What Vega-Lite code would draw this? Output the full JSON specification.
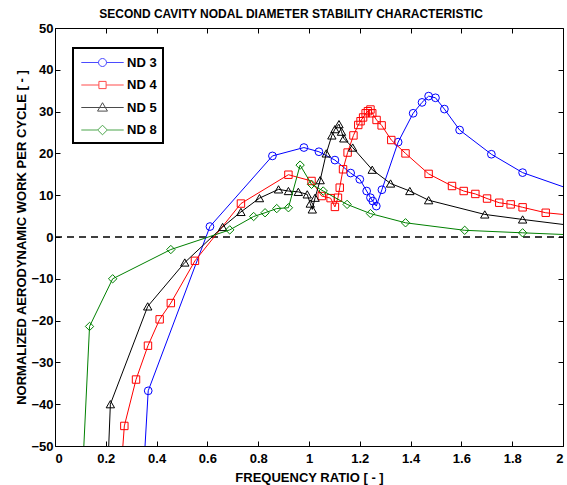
{
  "$schema": "https://vega.github.io/schema/vega-lite/v6.json",
  "width": 508,
  "height": 418,
  "autosize": {"type": "none"},
  "padding": {"left": 55, "top": 28, "right": 4, "bottom": 39},
  "title": {"text": "SECOND CAVITY NODAL DIAMETER STABILITY CHARACTERISTIC", "font": "Liberation Sans", "fontSize": 12, "fontWeight": "bold", "color": "black", "offset": 1, "dx": -18},
  "config": {
    "view": {"stroke": "black", "strokeWidth": 1},
    "font": "Liberation Sans",
    "axis": {"labelFont": "Liberation Sans", "labelFontSize": 13, "labelFontWeight": "bold", "labelColor": "black", "titleFont": "Liberation Sans", "titleFontSize": 13, "titleFontWeight": "bold", "titleColor": "black", "grid": false, "domain": false, "tickColor": "black", "tickSize": -5, "tickWidth": 1},
    "legend": {"strokeWidth": 2}
  },
  "resolve": {"axis": {"x": "independent", "y": "independent"}},
  "datasets": {
    "main": [
      {"s": "ND 3", "x": 0.345, "y": -60},
      {"s": "ND 3", "x": 0.367, "y": -36.8},
      {"s": "ND 3", "x": 0.61, "y": 2.5},
      {"s": "ND 3", "x": 0.856, "y": 19.4},
      {"s": "ND 3", "x": 0.98, "y": 21.4},
      {"s": "ND 3", "x": 1.039, "y": 20.4},
      {"s": "ND 3", "x": 1.102, "y": 18.4},
      {"s": "ND 3", "x": 1.164, "y": 15.3},
      {"s": "ND 3", "x": 1.2, "y": 13.8},
      {"s": "ND 3", "x": 1.227, "y": 11.0},
      {"s": "ND 3", "x": 1.242, "y": 9.4},
      {"s": "ND 3", "x": 1.251, "y": 8.6},
      {"s": "ND 3", "x": 1.265, "y": 7.4},
      {"s": "ND 3", "x": 1.287, "y": 11.3},
      {"s": "ND 3", "x": 1.351, "y": 22.7},
      {"s": "ND 3", "x": 1.41, "y": 29.6},
      {"s": "ND 3", "x": 1.445, "y": 32.2},
      {"s": "ND 3", "x": 1.471, "y": 33.7},
      {"s": "ND 3", "x": 1.498, "y": 33.3},
      {"s": "ND 3", "x": 1.533, "y": 30.6},
      {"s": "ND 3", "x": 1.593, "y": 25.6},
      {"s": "ND 3", "x": 1.718, "y": 19.8},
      {"s": "ND 3", "x": 1.841, "y": 15.4},
      {"s": "ND 3", "x": 2.1, "y": 9.9},
      {"s": "ND 4", "x": 0.255, "y": -60},
      {"s": "ND 4", "x": 0.273, "y": -45.2},
      {"s": "ND 4", "x": 0.319, "y": -34.1},
      {"s": "ND 4", "x": 0.366, "y": -26.0},
      {"s": "ND 4", "x": 0.412, "y": -19.7},
      {"s": "ND 4", "x": 0.456, "y": -15.8},
      {"s": "ND 4", "x": 0.551, "y": -5.7},
      {"s": "ND 4", "x": 0.732, "y": 8.0},
      {"s": "ND 4", "x": 0.919, "y": 14.9},
      {"s": "ND 4", "x": 1.01, "y": 13.4},
      {"s": "ND 4", "x": 1.05, "y": 9.8},
      {"s": "ND 4", "x": 1.085, "y": 9.3},
      {"s": "ND 4", "x": 1.102, "y": 7.2},
      {"s": "ND 4", "x": 1.114, "y": 9.4},
      {"s": "ND 4", "x": 1.121, "y": 11.8},
      {"s": "ND 4", "x": 1.134, "y": 16.2},
      {"s": "ND 4", "x": 1.152, "y": 20.2},
      {"s": "ND 4", "x": 1.175, "y": 24.3},
      {"s": "ND 4", "x": 1.194, "y": 26.8},
      {"s": "ND 4", "x": 1.203, "y": 27.7},
      {"s": "ND 4", "x": 1.213, "y": 28.6},
      {"s": "ND 4", "x": 1.223, "y": 29.6},
      {"s": "ND 4", "x": 1.232, "y": 30.1},
      {"s": "ND 4", "x": 1.242, "y": 30.5},
      {"s": "ND 4", "x": 1.249, "y": 29.6},
      {"s": "ND 4", "x": 1.266, "y": 28.0},
      {"s": "ND 4", "x": 1.286, "y": 26.7},
      {"s": "ND 4", "x": 1.324, "y": 23.2},
      {"s": "ND 4", "x": 1.38, "y": 20.0},
      {"s": "ND 4", "x": 1.471, "y": 15.1},
      {"s": "ND 4", "x": 1.563, "y": 12.2},
      {"s": "ND 4", "x": 1.609, "y": 11.0},
      {"s": "ND 4", "x": 1.655, "y": 10.3},
      {"s": "ND 4", "x": 1.701, "y": 9.2},
      {"s": "ND 4", "x": 1.749, "y": 8.2},
      {"s": "ND 4", "x": 1.794, "y": 7.8},
      {"s": "ND 4", "x": 1.841, "y": 7.1},
      {"s": "ND 4", "x": 1.932, "y": 5.8},
      {"s": "ND 4", "x": 2.05, "y": 5.1},
      {"s": "ND 5", "x": 0.205, "y": -60},
      {"s": "ND 5", "x": 0.218, "y": -40},
      {"s": "ND 5", "x": 0.365, "y": -16.6},
      {"s": "ND 5", "x": 0.511, "y": -6.1},
      {"s": "ND 5", "x": 0.66, "y": 2.4},
      {"s": "ND 5", "x": 0.732, "y": 6.0},
      {"s": "ND 5", "x": 0.805, "y": 9.3},
      {"s": "ND 5", "x": 0.88, "y": 11.4},
      {"s": "ND 5", "x": 0.919, "y": 11.0},
      {"s": "ND 5", "x": 0.958, "y": 10.8},
      {"s": "ND 5", "x": 0.993, "y": 10.2},
      {"s": "ND 5", "x": 1.005, "y": 8.0},
      {"s": "ND 5", "x": 1.013, "y": 6.6},
      {"s": "ND 5", "x": 1.024, "y": 9.4},
      {"s": "ND 5", "x": 1.044, "y": 13.6},
      {"s": "ND 5", "x": 1.068, "y": 20.0},
      {"s": "ND 5", "x": 1.09, "y": 24.3},
      {"s": "ND 5", "x": 1.102, "y": 25.8},
      {"s": "ND 5", "x": 1.118, "y": 27.0},
      {"s": "ND 5", "x": 1.128, "y": 25.2},
      {"s": "ND 5", "x": 1.137, "y": 23.6},
      {"s": "ND 5", "x": 1.172, "y": 21.4},
      {"s": "ND 5", "x": 1.249, "y": 16.1},
      {"s": "ND 5", "x": 1.321, "y": 12.8},
      {"s": "ND 5", "x": 1.397, "y": 11.0},
      {"s": "ND 5", "x": 1.471, "y": 8.8},
      {"s": "ND 5", "x": 1.692, "y": 5.4},
      {"s": "ND 5", "x": 1.841, "y": 4.2},
      {"s": "ND 5", "x": 2.1, "y": 2.25},
      {"s": "ND 8", "x": 0.09, "y": -80},
      {"s": "ND 8", "x": 0.136, "y": -21.4},
      {"s": "ND 8", "x": 0.227, "y": -10.0},
      {"s": "ND 8", "x": 0.456, "y": -3.0},
      {"s": "ND 8", "x": 0.688, "y": 1.7},
      {"s": "ND 8", "x": 0.782, "y": 4.9},
      {"s": "ND 8", "x": 0.827, "y": 5.8},
      {"s": "ND 8", "x": 0.873, "y": 6.8},
      {"s": "ND 8", "x": 0.919, "y": 7.0},
      {"s": "ND 8", "x": 0.965, "y": 17.2},
      {"s": "ND 8", "x": 1.01, "y": 12.6},
      {"s": "ND 8", "x": 1.056, "y": 11.0},
      {"s": "ND 8", "x": 1.15, "y": 7.8},
      {"s": "ND 8", "x": 1.242, "y": 5.6},
      {"s": "ND 8", "x": 1.38, "y": 3.4},
      {"s": "ND 8", "x": 1.613, "y": 1.6},
      {"s": "ND 8", "x": 1.841, "y": 1.0},
      {"s": "ND 8", "x": 2.1, "y": 0.35}
    ],
    "zero": [{"x": 0, "y": 0}, {"x": 2, "y": 0}]
  },
  "layer": [
    {
      "data": {"name": "zero"},
      "mark": {"type": "line", "color": "black", "strokeWidth": 1.6, "strokeDash": [7, 5]},
      "encoding": {
        "x": {"field": "x", "type": "quantitative", "scale": {"domain": [0, 2], "nice": false}, "axis": {"orient": "top", "labels": false, "title": null, "values": [0, 0.2, 0.4, 0.6, 0.8, 1, 1.2, 1.4, 1.6, 1.8, 2]}},
        "y": {"field": "y", "type": "quantitative", "scale": {"domain": [-50, 50], "nice": false}, "axis": {"orient": "right", "labels": false, "title": null, "values": [-50, -40, -30, -20, -10, 0, 10, 20, 30, 40, 50]}}
      }
    },
    {
      "data": {"name": "main"},
      "transform": [{"filter": "datum.s == 'ND 3'"}],
      "mark": {"type": "line", "clip": true, "strokeWidth": 1, "color": "#0000ff", "point": {"shape": "circle", "filled": false, "size": 60, "strokeWidth": 1, "color": "#0000ff"}},
      "encoding": {
        "x": {"field": "x", "type": "quantitative", "axis": {"orient": "bottom", "title": "FREQUENCY RATIO [ - ]", "values": [0, 0.2, 0.4, 0.6, 0.8, 1, 1.2, 1.4, 1.6, 1.8, 2], "format": "~g", "labelPadding": 11, "titlePadding": 6}},
        "y": {"field": "y", "type": "quantitative", "axis": {"orient": "left", "title": "NORMALIZED AERODYNAMIC WORK PER CYCLE [ - ]", "values": [-50, -40, -30, -20, -10, 0, 10, 20, 30, 40, 50], "labelPadding": 7, "titlePadding": 2}}
      }
    },
    {
      "data": {"name": "main"},
      "transform": [{"filter": "datum.s == 'ND 4'"}],
      "mark": {"type": "line", "clip": true, "strokeWidth": 1, "color": "#ff0000", "point": {"shape": "square", "filled": false, "size": 55, "strokeWidth": 1, "color": "#ff0000"}},
      "encoding": {"x": {"field": "x", "type": "quantitative", "axis": null}, "y": {"field": "y", "type": "quantitative", "axis": null}}
    },
    {
      "data": {"name": "main"},
      "transform": [{"filter": "datum.s == 'ND 5'"}],
      "mark": {"type": "line", "clip": true, "strokeWidth": 1, "color": "#000000", "point": {"shape": "triangle-up", "filled": false, "size": 70, "strokeWidth": 1, "color": "#000000"}},
      "encoding": {"x": {"field": "x", "type": "quantitative", "axis": null}, "y": {"field": "y", "type": "quantitative", "axis": null}}
    },
    {
      "data": {"name": "main"},
      "transform": [{"filter": "datum.s == 'ND 8'"}],
      "mark": {"type": "line", "clip": true, "strokeWidth": 1, "color": "#008000", "point": {"shape": "diamond", "filled": false, "size": 70, "strokeWidth": 1, "color": "#008000"}},
      "encoding": {"x": {"field": "x", "type": "quantitative", "axis": null}, "y": {"field": "y", "type": "quantitative", "axis": null}}
    },
    {
      "data": {"name": "main"},
      "transform": [{"filter": "datum.y < -55"}],
      "mark": {"type": "point", "filled": false, "clip": true, "strokeWidth": 1},
      "encoding": {
        "x": {"field": "x", "type": "quantitative", "axis": null},
        "y": {"field": "y", "type": "quantitative", "axis": null},
        "color": {"field": "s", "type": "nominal", "scale": {"domain": ["ND 3", "ND 4", "ND 5", "ND 8"], "range": ["#0000ff", "#ff0000", "#000000", "#008000"]}, "legend": {"title": null, "orient": "none", "legendX": 18, "legendY": 20, "strokeColor": "black", "padding": 6, "symbolSize": 256, "symbolOffset": 15, "symbolStrokeWidth": 1, "labelFont": "Liberation Sans", "labelFontSize": 13, "labelFontWeight": "bold", "labelColor": "black", "labelOffset": 16, "rowPadding": 6.5, "fillColor": "white"}},
        "shape": {"field": "s", "type": "nominal", "scale": {"domain": ["ND 3", "ND 4", "ND 5", "ND 8"], "range": [
          "M-2.65,0H-0.5A0.5,0.5 0 1,1 0.5,0A0.5,0.5 0 1,1 -0.5,0M0.5,0H2.65",
          "M-2.65,0H-0.45M-0.45,-0.45H0.45V0.45H-0.45ZM0.45,0H2.65",
          "M-2.65,0H2.65M0,-0.6L0.62,0.45H-0.62Z",
          "M-2.65,0H-0.6L0,-0.6L0.6,0L0,0.6L-0.6,0M0.6,0H2.65"
        ]}, "legend": {"title": null, "orient": "none", "legendX": 18, "legendY": 20, "strokeColor": "black", "padding": 6, "symbolSize": 256, "symbolOffset": 15, "symbolStrokeWidth": 1, "labelFont": "Liberation Sans", "labelFontSize": 13, "labelFontWeight": "bold", "labelColor": "black", "labelOffset": 16, "rowPadding": 6.5, "fillColor": "white"}}
      }
    }
  ]
}
